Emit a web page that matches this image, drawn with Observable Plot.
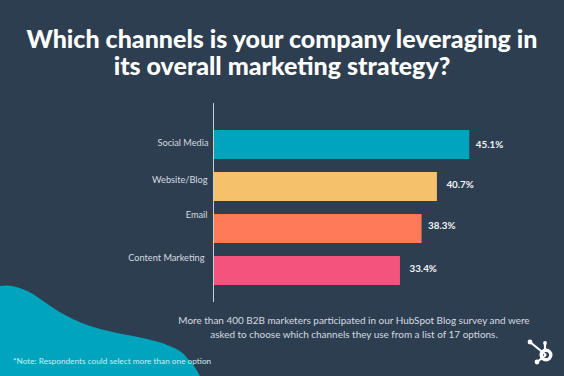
<!DOCTYPE html>
<html><head><meta charset="utf-8">
<script src="https://cdn.jsdelivr.net/npm/d3@7"></script>
<script src="https://cdn.jsdelivr.net/npm/@observablehq/plot@0.6"></script>
<style>
html,body{margin:0;padding:0;background:#2d3e50;}
#c{position:relative;width:564px;height:376px;overflow:hidden;background:#2d3e50;font-family:Lato,sans-serif;}
#c>*{position:absolute;}
#blob,#logo{left:0;top:0;}
#plot{left:0;top:0;}
#plot svg{background:transparent;display:block;}
#title{left:0;top:24.5px;width:564px;text-align:center;color:#fff;font:900 25px/27px Lato,sans-serif;white-space:nowrap;}
#body{left:129px;top:312.5px;width:450px;text-align:center;color:#d5dbe1;font:400 9.95px/14px Lato,sans-serif;white-space:nowrap;}
#note{left:13px;top:355px;color:#cdeef4;font:400 8.25px/12px Lato,sans-serif;white-space:nowrap;}
</style></head><body>
<div id="c">
<svg id="blob" width="564" height="376"><path fill="#00a4bd" d="M0,286 C12,284 22,288 33,294 C45,302 55,310 67,316 C80,323 90,326 100,329 C112,332 122,334 133,336 C146,339 158,341 167,345 C178,349 184,353 187,358 C193,364 197,370 200,376 L0,376 Z"/></svg>
<div id="plot"></div>
<div id="title">Which channels is your company leveraging in<br>its overall marketing strategy?</div>
<div id="body">More than 400 B2B marketers participated in our HubSpot Blog survey and were<br>asked to choose which channels they use from a list of 17 options.</div>
<div id="note">*Note: Respondents could select more than one option</div>
<svg id="logo" width="564" height="376" fill="#fff" stroke="#fff">
<circle cx="546" cy="355" r="4.8" fill="none" stroke-width="3.4"/>
<path d="M530,342 L546,355 M537,362 L546,355 M545,343 L545,351" stroke-width="2.2" fill="none"/>
<circle cx="530" cy="342" r="2.4" stroke="none"/><circle cx="537" cy="362" r="2.4" stroke="none"/><circle cx="545" cy="343" r="1.9" stroke="none"/>
</svg>
</div>
<script>
const channels = ["Social Media", "Website/Blog", "Email", "Content Marketing"];
// bar lengths as drawn in the picture, on the scale set by the longest bar (the source graphic's bars do not follow its printed labels exactly)
const drawnLengths = [45.1, 39.4, 36.7, 32.9];
const shareLabels = ["45.1%", "40.7%", "38.3%", "33.4%"];
const colors = ["#00a4bd", "#f5c26b", "#ff7a59", "#f2547d"];
const rows = channels.map((channel, i) => ({channel, length: drawnLengths[i], label: shareLabels[i], color: colors[i]}));
// per-row nudges of the hand-placed labels in the source graphic
const labelDy = [-2, -7, -14, -13];
const labelDx = [-5, -6, -6, -9];
const valueDy = [0, -2, -3, -2];
const valueDx = [6, 9, 6, 9];
const chart = Plot.plot({
  width: 564, height: 376,
  marginTop: 103, marginBottom: 74, marginLeft: 0, marginRight: 0,
  style: {background: "transparent"},
  x: {domain: [0, 45.1], range: [213, 469.3], axis: null},
  y: {domain: channels, range: [122.2, 293], paddingInner: 0.31, paddingOuter: 0.155, axis: null},
  color: {type: "identity"},
  marks: [
    Plot.barX(rows, {x: "length", y: "channel", fill: "color"}),
    Plot.ruleX([0], {stroke: "#c9ced4", strokeWidth: 1}),
    ...rows.map((r, i) => Plot.text([r], {x: 0, y: "channel", text: "channel", textAnchor: "end", dx: labelDx[i], dy: labelDy[i], fill: "#d5dbe1", fontSize: 9.2, fontFamily: "Lato"})),
    ...rows.map((r, i) => Plot.text([r], {x: "length", y: "channel", text: "label", textAnchor: "start", dx: valueDx[i], dy: valueDy[i], fill: "#f4f6f8", fontSize: 9.8, fontWeight: 700, fontFamily: "Lato"}))
  ]
});
document.getElementById("plot").appendChild(chart);
</script>
</body></html>
